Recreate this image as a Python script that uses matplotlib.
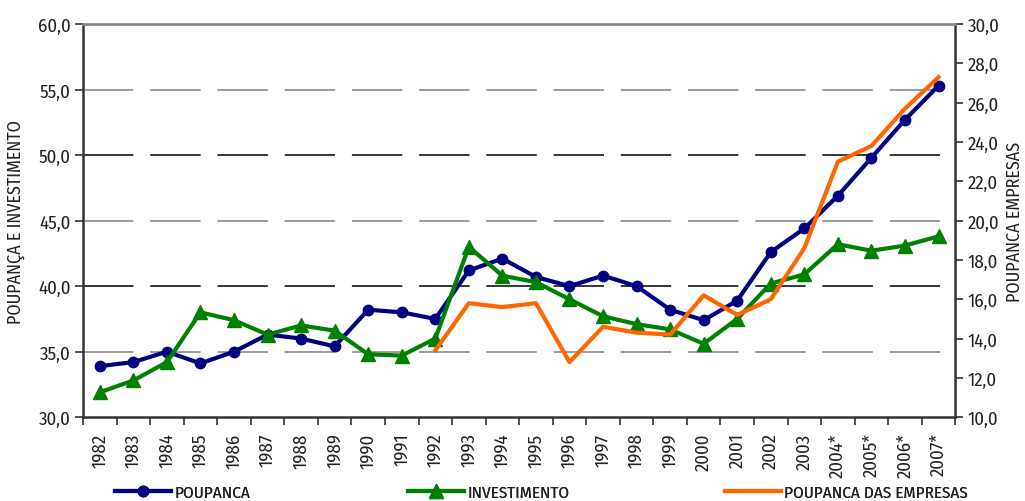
import matplotlib
matplotlib.use("Agg")
import matplotlib.pyplot as plt
import numpy as np

plt.rcParams['font.family'] = ['Fira Sans Condensed', 'DejaVu Sans']

anos = ['1982', '1983', '1984', '1985', '1986', '1987', '1988', '1989', '1990',
        '1991', '1992', '1993', '1994', '1995', '1996', '1997', '1998', '1999',
        '2000', '2001', '2002', '2003', '2004*', '2005*', '2006*', '2007*']
poupanca = [33.9, 34.2, 35.0, 34.1, 35.0, 36.3, 36.0, 35.4, 38.2, 38.0, 37.5,
            41.2, 42.1, 40.7, 40.0, 40.8, 40.0, 38.2, 37.4, 38.9, 42.6, 44.4,
            46.9, 49.8, 52.7, 55.3]
investimento = [31.9, 32.8, 34.2, 38.0, 37.4, 36.3, 37.0, 36.6, 34.8, 34.7, 36.0,
                43.0, 40.8, 40.3, 39.0, 37.7, 37.1, 36.7, 35.6, 37.5, 40.2, 40.9,
                43.2, 42.7, 43.1, 43.8]
# poupanca das empresas starts in 1992
inicio_empresas = 10
poupanca_empresas = [13.4, 15.8, 15.6, 15.8, 12.8, 14.6, 14.3, 14.2, 16.2, 15.2,
                     16.0, 18.6, 23.0, 23.8, 25.7, 27.3]

x = np.arange(len(anos))
x_emp = x[inicio_empresas:]

fig = plt.figure(figsize=(10.25, 5.02), dpi=100)
ax = fig.add_axes([0.081, 0.167, 0.851, 0.783])
ax2 = ax.twinx()

l1, = ax.plot(x, poupanca, color='#000080', lw=3, marker='o', markersize=7.5,
              label='POUPANCA', zorder=3)
l2, = ax.plot(x, investimento, color='#008000', lw=3, marker='^', markersize=10,
              label='INVESTIMENTO', zorder=4)
l3, = ax2.plot(x_emp, poupanca_empresas, color='#FF6600', lw=3,
               label='POUPANCA DAS EMPRESAS', zorder=5)

ax.set_xlim(-0.5, len(anos) - 0.5)
ax.set_ylim(30, 60)
ax2.set_ylim(10, 30)
ax.set_yticks(np.arange(30, 61, 5))
ax2.set_yticks(np.arange(10, 31, 2))
ax.set_yticklabels([f'{v:.1f}'.replace('.', ',') for v in np.arange(30, 61, 5)])
ax2.set_yticklabels([f'{v:.1f}'.replace('.', ',') for v in np.arange(10, 31, 2)])

ax.set_xticks(x)
ax.set_xticklabels(anos, rotation=90, fontsize=13.5, color='#222222')
ax.set_xticks(np.arange(-0.5, len(anos), 1), minor=True)
ax.tick_params(axis='x', which='major', length=0, pad=11)
ax.tick_params(axis='x', which='minor', length=6, width=1.2, color='#333333')
ax.tick_params(axis='y', labelsize=13.5, labelcolor='#222222', length=6, width=1.2,
               color='#333333', pad=3)
ax2.tick_params(axis='y', labelsize=13.5, labelcolor='#222222', length=6, width=1.2,
                color='#333333', pad=3)

# alternating grey / black dashed grid
for v, c in zip([35, 40, 45, 50, 55], ['#808080', 'black', '#808080', 'black', '#808080']):
    ax.axhline(v, color=c, lw=1.1, linestyle=(0, (33, 11)), zorder=1)

for s in ['left', 'bottom', 'right']:
    ax2.spines[s].set_color('#333333')
    ax2.spines[s].set_linewidth(1.8)
ax2.spines['top'].set_color('#888888')
ax2.spines['top'].set_linewidth(2)
for s in ax.spines.values():
    s.set_visible(False)

ax.set_ylabel('POUPANÇA E INVESTIMENTO', fontsize=13, color='#222222')
ax.yaxis.set_label_coords(-0.066, 0.5)
ax2.set_ylabel('POUPANCA EMPRESAS', fontsize=13, color='#222222', rotation=90)
ax2.yaxis.set_label_coords(1.058, 0.5)

# legend entries spread along the bottom
for h, xpos in zip([l1, l2, l3], [0.112, 0.398, 0.707]):
    leg = fig.legend(handles=[h], loc='center left', bbox_to_anchor=(xpos, 0.018),
                     frameon=False, fontsize=12.3, labelcolor='#222222',
                     handlelength=3.3, handletextpad=0.2, borderpad=0, borderaxespad=0)
    fig.add_artist(leg)

fig.savefig('out.png', dpi=100)
